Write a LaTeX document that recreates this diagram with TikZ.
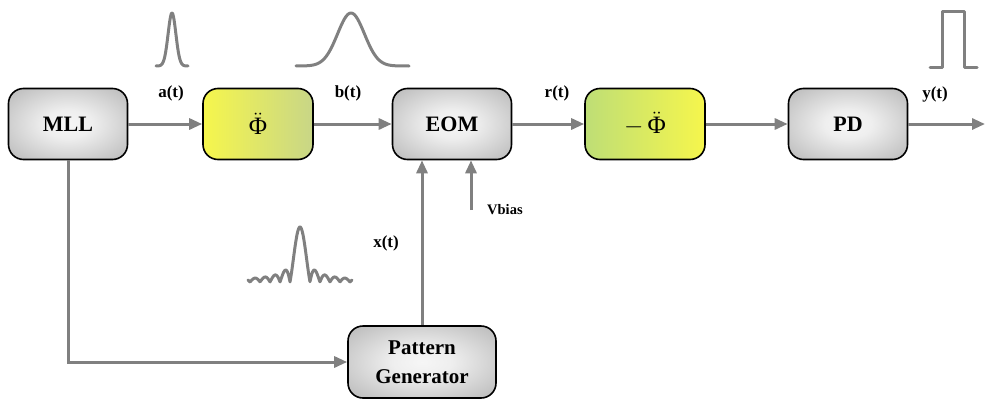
\documentclass[tikz,border=0pt]{standalone}
\usepackage{fontspec}
\setmainfont{Liberation Serif}
\usetikzlibrary{arrows.meta}
\definecolor{linegray}{RGB}{128,128,128}
\definecolor{boxouter}{RGB}{150,150,150}
\definecolor{boxinner}{RGB}{246,246,246}
\definecolor{yel}{RGB}{246,246,76}
\definecolor{grn}{RGB}{190,222,118}
\definecolor{grnb}{RGB}{200,214,135}
\pgfdeclareradialshading{boxshade}{\pgfpoint{0bp}{0bp}}{color(0bp)=(boxinner); color(10bp)=(boxinner!92!boxouter); color(52bp)=(boxouter); color(100bp)=(boxouter)}
\newcommand{\phidd}{\ensuremath{\ddot{\hbox{\mdseries Φ}}}}
\tikzset{
  blk/.style={draw=black, line width=1.6pt, rounded corners=15pt, minimum width=119pt, minimum height=71pt, inner sep=0pt, font=\fontsize{22}{24}\selectfont\bfseries},
  graybox/.style={blk, shading=boxshade},
  phibox/.style={blk, font=\fontsize{25}{27}\selectfont},
  conn/.style={draw=linegray, line width=3pt, -{Triangle[length=13pt,width=11pt]}},
  wave/.style={draw=linegray, line width=3pt, line join=round, line cap=round},
  lbl/.style={font=\fontsize{17}{19}\selectfont\bfseries, inner sep=0pt}
}
\begin{document}
\begin{tikzpicture}[x=1pt,y=-1pt]
\useasboundingbox (0,0) rectangle (985,399);
% blocks
\node[graybox] (mll) at (68,124) {MLL};
\node[phibox, minimum width=110pt, left color=yel, right color=grnb] (phi) at (258,124) {\phidd};
\node[graybox] (eom) at (452,124) {EOM};
\node[phibox, minimum width=120pt, left color=grn, right color=yel] (mphi) at (645,124) {$-$\,\phidd};
\node[graybox] (pd) at (848,124) {PD};
\node[graybox, minimum width=148pt, minimum height=72pt, align=center, font=\fontsize{21}{29}\selectfont\bfseries] (pg) at (422,362) {Pattern\\Generator};
% free ends
\coordinate (out) at (985,124);
\coordinate (vb) at (471,210);
% connectors
\draw[conn] (mll) -- (phi);
\draw[conn] (phi) -- (eom);
\draw[conn] (eom) -- (mphi);
\draw[conn] (mphi) -- (pd);
\draw[conn] (pd) -- (out);
\draw[conn] (mll.south) |- (pg.west);
\draw[conn] (pg.north) -- (pg.north |- eom.south);
\draw[conn] (vb) -- (vb |- eom.south);
% labels
\node[lbl] (la) at (171,93) {a(t)};
\node[lbl] (lb) at (348,93) {b(t)};
\node[lbl] (lr) at (557,93) {r(t)};
\node[lbl] (ly) at (935,94) {y(t)};
\node[lbl] (lx) at (386,243) {x(t)};
\node[lbl, anchor=west, font=\fontsize{14.5}{16}\selectfont\bfseries] (lv) at (487,210) {Vbias};
% waveforms
\draw[wave] plot[domain=156:188, samples=60] (\x, {66-53*exp(-((\x-172)/5.5)^2)});
\draw[wave] plot[domain=296:409, samples=80] (\x, {66-53*exp(-((\x-351)/19)^2)});
\draw[wave] (930,67) -- (942,67) -- (942,11) -- (964,11) -- (964,67) -- (977,67);
\draw[wave] plot[domain=-5.2:5.2, samples=241] ({300+10*\x}, {282-55*abs(sin(180*\x)/(3.14159*\x+0.00001))});
\end{tikzpicture}
\end{document}
